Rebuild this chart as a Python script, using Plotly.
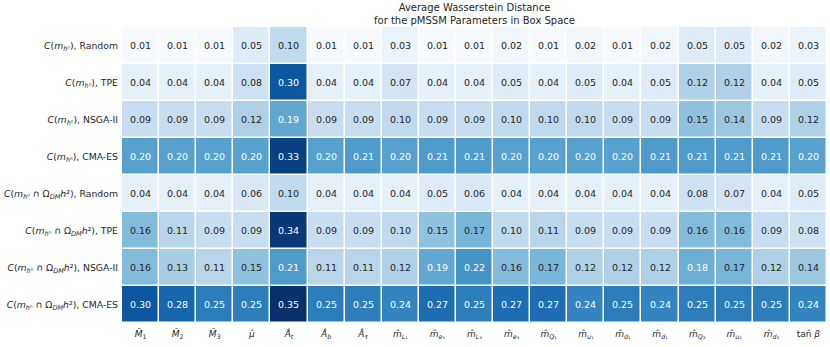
import numpy as np
import plotly.graph_objects as go
from plotly.colors import sequential, sample_colorscale, unlabel_rgb

# Row labels (objective, optimiser)
rows = [
    "<i>C</i>(<i>m</i><sub><i>h</i>⁰</sub>), Random",
    "<i>C</i>(<i>m</i><sub><i>h</i>⁰</sub>), TPE",
    "<i>C</i>(<i>m</i><sub><i>h</i>⁰</sub>), NSGA-II",
    "<i>C</i>(<i>m</i><sub><i>h</i>⁰</sub>), CMA-ES",
    "<i>C</i>(<i>m</i><sub><i>h</i>⁰</sub> ∩ Ω<sub><i>DM</i></sub><i>h</i>²), Random",
    "<i>C</i>(<i>m</i><sub><i>h</i>⁰</sub> ∩ Ω<sub><i>DM</i></sub><i>h</i>²), TPE",
    "<i>C</i>(<i>m</i><sub><i>h</i>⁰</sub> ∩ Ω<sub><i>DM</i></sub><i>h</i>²), NSGA-II",
    "<i>C</i>(<i>m</i><sub><i>h</i>⁰</sub> ∩ Ω<sub><i>DM</i></sub><i>h</i>²), CMA-ES",
]

# pMSSM parameters (columns)
params = [
    "<i>M̂</i><sub>1</sub>", "<i>M̂</i><sub>2</sub>", "<i>M̂</i><sub>3</sub>", "<i>μ̂</i>",
    "<i>Â</i><sub><i>t</i></sub>", "<i>Â</i><sub><i>b</i></sub>", "<i>Â</i><sub><i>τ</i></sub>",
    "<i>m̂</i><sub><i>L</i>₁</sub>", "<i>m̂</i><sub><i>e</i>₁</sub>", "<i>m̂</i><sub><i>L</i>₃</sub>",
    "<i>m̂</i><sub><i>e</i>₃</sub>", "<i>m̂</i><sub><i>Q</i>₁</sub>", "<i>m̂</i><sub><i>u</i>₁</sub>",
    "<i>m̂</i><sub><i>d</i>₁</sub>", "<i>m̂</i><sub><i>d</i>₁</sub>", "<i>m̂</i><sub><i>Q</i>₃</sub>",
    "<i>m̂</i><sub><i>u</i>₃</sub>", "<i>m̂</i><sub><i>d</i>₃</sub>", "tan̂ <i>β</i>",
]

# average Wasserstein distances, one list per row
w_mh_random = [0.01, 0.01, 0.01, 0.05, 0.10, 0.01, 0.01, 0.03, 0.01, 0.01, 0.02, 0.01, 0.02, 0.01, 0.02, 0.05, 0.05, 0.02, 0.03]
w_mh_tpe    = [0.04, 0.04, 0.04, 0.08, 0.30, 0.04, 0.04, 0.07, 0.04, 0.04, 0.05, 0.04, 0.05, 0.04, 0.05, 0.12, 0.12, 0.04, 0.05]
w_mh_nsga   = [0.09, 0.09, 0.09, 0.12, 0.19, 0.09, 0.09, 0.10, 0.09, 0.09, 0.10, 0.10, 0.10, 0.09, 0.09, 0.15, 0.14, 0.09, 0.12]
w_mh_cma    = [0.20, 0.20, 0.20, 0.20, 0.33, 0.20, 0.21, 0.20, 0.21, 0.21, 0.20, 0.20, 0.20, 0.20, 0.21, 0.21, 0.21, 0.21, 0.20]
w_dm_random = [0.04, 0.04, 0.04, 0.06, 0.10, 0.04, 0.04, 0.04, 0.05, 0.06, 0.04, 0.04, 0.04, 0.04, 0.04, 0.08, 0.07, 0.04, 0.05]
w_dm_tpe    = [0.16, 0.11, 0.09, 0.09, 0.34, 0.09, 0.09, 0.10, 0.15, 0.17, 0.10, 0.11, 0.09, 0.09, 0.09, 0.16, 0.16, 0.09, 0.08]
w_dm_nsga   = [0.16, 0.13, 0.11, 0.15, 0.21, 0.11, 0.11, 0.12, 0.19, 0.22, 0.16, 0.17, 0.12, 0.12, 0.12, 0.18, 0.17, 0.12, 0.14]
w_dm_cma    = [0.30, 0.28, 0.25, 0.25, 0.35, 0.25, 0.25, 0.24, 0.27, 0.25, 0.27, 0.27, 0.24, 0.25, 0.24, 0.25, 0.25, 0.25, 0.24]

z = np.array([w_mh_random, w_mh_tpe, w_mh_nsga, w_mh_cma,
              w_dm_random, w_dm_tpe, w_dm_nsga, w_dm_cma])
zmin, zmax = z.min(), z.max()

blues = sequential.Blues
cscale = [[i / (len(blues) - 1), c] for i, c in enumerate(blues)]

fig = go.Figure(go.Heatmap(
    z=z, x=list(range(len(params))), y=list(range(len(rows))),
    colorscale=cscale, zmin=zmin, zmax=zmax, showscale=False,
    xgap=1.5, ygap=1.5, hoverinfo="skip",
))

# annotate cells, dark or white text depending on cell luminance (like seaborn)
def lum(rgb):
    c = np.array(rgb) / 255.0
    c = np.where(c <= 0.03928, c / 12.92, ((c + 0.055) / 1.055) ** 2.4)
    return 0.2126 * c[0] + 0.7152 * c[1] + 0.0722 * c[2]

for i in range(z.shape[0]):
    for j in range(z.shape[1]):
        col = sample_colorscale(cscale, [(z[i, j] - zmin) / (zmax - zmin)])[0]
        txt_col = "#262626" if lum(unlabel_rgb(col)) > 0.408 else "white"
        fig.add_annotation(x=j, y=i, text="%.2f" % z[i, j], showarrow=False,
                           font=dict(size=9.5, color=txt_col, family="DejaVu Sans"))

# two-line title as a paper annotation sitting just above the heatmap
fig.add_annotation(text="Average Wasserstein Distance<br>for the pMSSM Parameters in Box Space",
                   xref="paper", yref="paper", x=0.5, y=1, xanchor="center", yanchor="bottom",
                   showarrow=False, font=dict(size=10, color="#262626"), yshift=-1)

fig.update_layout(
    width=830, height=347,
    margin=dict(l=122, r=3, t=27, b=24),
    plot_bgcolor="white", paper_bgcolor="white",
    font=dict(family="DejaVu Sans", color="#262626"),
)
fig.update_xaxes(tickvals=list(range(len(params))), ticktext=params,
                 tickfont=dict(size=9), showgrid=False, zeroline=False,
                 ticks="", ticklen=0, ticklabelstandoff=4)
fig.update_yaxes(tickvals=list(range(len(rows))), ticktext=rows,
                 tickfont=dict(size=9.3), autorange="reversed",
                 showgrid=False, zeroline=False, ticks="", ticklen=0,
                 ticklabelstandoff=3)

# drop the default page margin so the figure sits at the window's corner
fig.write_html("out.html", config={"displayModeBar": False},
               post_script="document.body.style.margin='0';")
